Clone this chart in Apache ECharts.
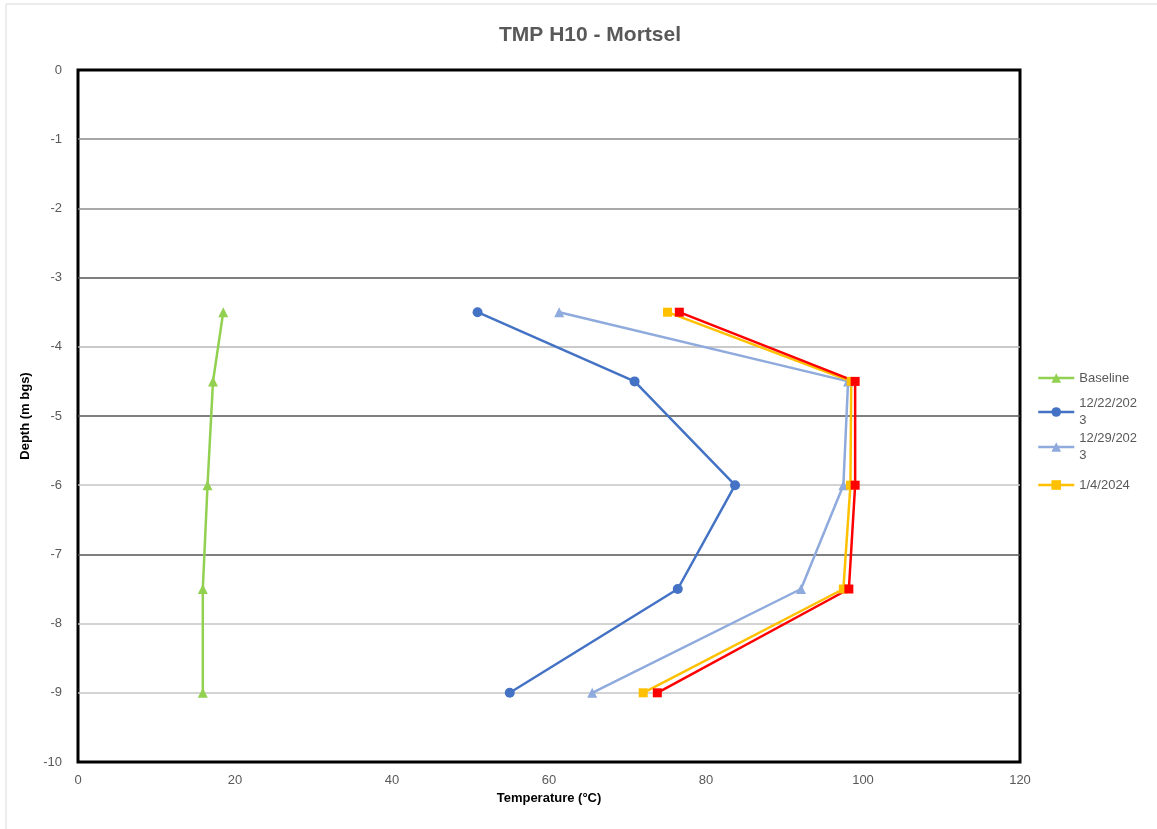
<!DOCTYPE html>
<html>
<head>
<meta charset="utf-8">
<script src="https://cdn.jsdelivr.net/npm/echarts@6/dist/echarts.min.js"></script>
<style>
	html, body { margin: 0; padding: 0; background: #fff; }
	#main { width: 1157px; height: 829px; }
</style>
</head>
<body>
<div id="main"></div>
<script>
// depths (m bgs) shared by every profile
var depths = [-3.5, -4.5, -6, -7.5, -9];

// temperatures (°C)
var baseline = [18.5, 17.2, 16.5, 15.9, 15.9];
var dec22 = [50.9, 70.9, 83.7, 76.4, 55.0];
var dec29 = [61.3, 98.1, 97.5, 92.1, 65.5];
var jan4 = [75.1, 98.5, 98.4, 97.5, 72.0];
var latest = [76.6, 99.0, 99.0, 98.2, 73.8]; // red, not in legend

var seriesNames = ['Baseline', '12/22/2023', '12/29/2023', '1/4/2024', 'Series 5'];
var xTicks = [0, 120, 20];   // min, max, interval
var yTicks = [-10, 0, 1];

var labelFont = 'Liberation Sans';
var grey = '#595959';

function pairs(vals) {
	var out = [];
	for (var i = 0; i < vals.length; i++) {
		out.push([vals[i], depths[i]]);
	}
	return out;
}

function lineSeries(name, vals, color, symbol, size) {
	return {
		name: name,
		type: 'line',
		data: pairs(vals),
		symbol: symbol,
		symbolSize: size,
		showAllSymbol: true,
		lineStyle: { color: color, width: 2.5 },
		itemStyle: { color: color },
		emphasis: { disabled: true }
	};
}

// one legend per entry so the wrapped names sit like the original
function legendItem(name, label, centerY, wrapped) {
	return {
		orient: 'vertical',
		left: 1037,
		top: wrapped ? centerY - 25.5 : centerY - 8.5,
		padding: 0,
		itemWidth: 36,
		itemHeight: 12,
		lineStyle: { width: 2.5 },
		data: [name],
		formatter: function () { return label; },
		textStyle: {
			color: grey,
			fontFamily: labelFont,
			fontSize: 13,
			lineHeight: 17,
			padding: wrapped ? [17, 0, 0, 0] : 0
		}
	};
}

// split line colours, from -10 up to 0 (some lines print darker)
var splitColors = ['#000', '#c4c4c4', '#c4c4c4', '#555', '#c4c4c4', '#555',
	'#b8b8b8', '#555', '#8c8c8c', '#888', '#000'];

var myChart = echarts.init(document.getElementById('main'));
var option = {
	backgroundColor: '#fff',
	animation: false,
	title: {
		text: 'TMP H10 - Mortsel',
		left: 585,
		top: 20,
		textAlign: 'center',
		textStyle: {
			color: grey,
			fontFamily: labelFont,
			fontWeight: 'bold',
			fontSize: 21
		}
	},
	graphic: [{
		type: 'rect',
		shape: { x: 6, y: 4, width: 1160, height: 840 },
		style: { fill: 'none', stroke: '#d9d9d9', lineWidth: 1 },
		silent: true,
		z: -10
	}],
	legend: [
		legendItem(seriesNames[0], 'Baseline', 378, false),
		legendItem(seriesNames[1], '12/22/202\n3', 412, true),
		legendItem(seriesNames[2], '12/29/202\n3', 447, true),
		legendItem(seriesNames[3], '1/4/2024', 485, false)
	],
	grid: {
		left: 78,
		right: 137,
		top: 70,
		bottom: 67,
		show: true,
		borderColor: '#000',
		borderWidth: 3
	},
	xAxis: {
		type: 'value',
		min: xTicks[0],
		max: xTicks[1],
		interval: xTicks[2],
		name: 'Temperature (°C)',
		nameLocation: 'middle',
		nameGap: 28,
		nameTextStyle: {
			color: '#000',
			fontFamily: labelFont,
			fontWeight: 'bold',
			fontSize: 13
		},
		axisLine: { show: false },
		axisTick: { show: false },
		splitLine: { show: false },
		axisLabel: {
			color: grey,
			fontFamily: labelFont,
			fontSize: 13,
			margin: 12
		}
	},
	yAxis: {
		type: 'value',
		min: yTicks[0],
		max: yTicks[1],
		interval: yTicks[2],
		name: 'Depth (m bgs)',
		nameLocation: 'middle',
		nameGap: 46,
		nameTextStyle: {
			color: '#000',
			fontFamily: labelFont,
			fontWeight: 'bold',
			fontSize: 13
		},
		axisLine: { show: false },
		axisTick: { show: false },
		splitLine: {
			show: true,
			lineStyle: { color: splitColors, width: 1.5 }
		},
		axisLabel: {
			color: grey,
			fontFamily: labelFont,
			fontSize: 13,
			margin: 16
		}
	},
	series: [
		lineSeries(seriesNames[0], baseline, '#92D050', 'triangle', 10),
		lineSeries(seriesNames[1], dec22, '#4472C4', 'circle', 10),
		lineSeries(seriesNames[2], dec29, '#8FAADC', 'triangle', 10),
		lineSeries(seriesNames[3], jan4, '#FFC000', 'rect', 9),
		lineSeries(seriesNames[4], latest, '#FF0000', 'rect', 9)
	]
};
myChart.setOption(option);
</script>
</body>
</html>
